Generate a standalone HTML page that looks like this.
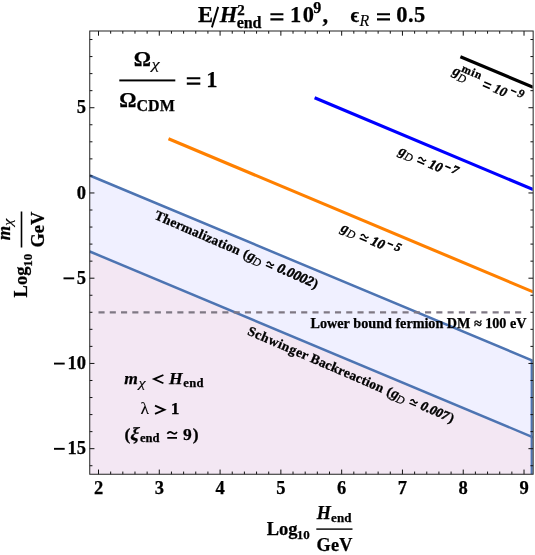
<!DOCTYPE html><html><head><meta charset="utf-8"><style>html,body{margin:0;padding:0;background:#fff}svg{display:block;will-change:transform}text{font-family:"Liberation Serif",serif;font-weight:bold;fill:#000;font-kerning:none;white-space:pre;stroke:#000;stroke-width:0.25px}text.n{stroke-width:0.1px}.rl text{stroke:#000;stroke-width:0.3px}.rl text.n{stroke-width:0.2px}.rl .dg text{stroke-width:0.5px}.i{font-style:italic}.n{font-weight:normal}</style></head><body>
<svg width="535" height="555" viewBox="0 0 535 555">
<rect width="535" height="555" fill="#fff"/>
<clipPath id="cp"><rect x="89.75" y="31.0" width="442.9" height="443.25"/></clipPath><g clip-path="url(#cp)">
<polygon points="89.75,175.5 533.15,360.8 533.15,474.25 89.75,474.25" fill="#f0f0ff"/>
<polygon points="89.75,251.5 533.15,437.3 533.15,474.25 89.75,474.25" fill="#f3e7f3"/>
<polyline points="89.75,175.5 531.85,360.26 531.85,474.25" fill="none" stroke="#4d74b2" stroke-width="2.5" stroke-linejoin="miter"/>
<line x1="89.75" y1="251.5" x2="533.15" y2="437.3" stroke="#4d74b2" stroke-width="2.5"/>
<line x1="98.5" y1="312.29" x2="524" y2="312.29" stroke="#7f7884" stroke-width="2.2" stroke-dasharray="6.1 5.16"/>
<line x1="168.5" y1="138.7" x2="533.2" y2="291.9" stroke="#ff8000" stroke-width="3.1"/>
<line x1="314.6" y1="97.7" x2="533.2" y2="189.6" stroke="#0000ff" stroke-width="3.1"/>
<line x1="460.4" y1="56.7" x2="533.2" y2="87.3" stroke="#000" stroke-width="3.1"/>
</g>
<path d="M98.50 474.25v-4.7M98.50 31.0v4.7M110.66 474.25v-2.7M110.66 31.0v2.7M122.82 474.25v-2.7M122.82 31.0v2.7M134.97 474.25v-2.7M134.97 31.0v2.7M147.13 474.25v-2.7M147.13 31.0v2.7M159.29 474.25v-4.7M159.29 31.0v4.7M171.45 474.25v-2.7M171.45 31.0v2.7M183.61 474.25v-2.7M183.61 31.0v2.7M195.76 474.25v-2.7M195.76 31.0v2.7M207.92 474.25v-2.7M207.92 31.0v2.7M220.08 474.25v-4.7M220.08 31.0v4.7M232.24 474.25v-2.7M232.24 31.0v2.7M244.40 474.25v-2.7M244.40 31.0v2.7M256.55 474.25v-2.7M256.55 31.0v2.7M268.71 474.25v-2.7M268.71 31.0v2.7M280.87 474.25v-4.7M280.87 31.0v4.7M293.03 474.25v-2.7M293.03 31.0v2.7M305.19 474.25v-2.7M305.19 31.0v2.7M317.34 474.25v-2.7M317.34 31.0v2.7M329.50 474.25v-2.7M329.50 31.0v2.7M341.66 474.25v-4.7M341.66 31.0v4.7M353.82 474.25v-2.7M353.82 31.0v2.7M365.98 474.25v-2.7M365.98 31.0v2.7M378.13 474.25v-2.7M378.13 31.0v2.7M390.29 474.25v-2.7M390.29 31.0v2.7M402.45 474.25v-4.7M402.45 31.0v4.7M414.61 474.25v-2.7M414.61 31.0v2.7M426.77 474.25v-2.7M426.77 31.0v2.7M438.92 474.25v-2.7M438.92 31.0v2.7M451.08 474.25v-2.7M451.08 31.0v2.7M463.24 474.25v-4.7M463.24 31.0v4.7M475.40 474.25v-2.7M475.40 31.0v2.7M487.56 474.25v-2.7M487.56 31.0v2.7M499.71 474.25v-2.7M499.71 31.0v2.7M511.87 474.25v-2.7M511.87 31.0v2.7M524.03 474.25v-4.7M524.03 31.0v4.7M89.75 465.73h2.7M533.15 465.73h-2.7M89.75 448.68h4.7M533.15 448.68h-4.7M89.75 431.63h2.7M533.15 431.63h-2.7M89.75 414.58h2.7M533.15 414.58h-2.7M89.75 397.53h2.7M533.15 397.53h-2.7M89.75 380.49h2.7M533.15 380.49h-2.7M89.75 363.44h4.7M533.15 363.44h-4.7M89.75 346.39h2.7M533.15 346.39h-2.7M89.75 329.34h2.7M533.15 329.34h-2.7M89.75 312.29h2.7M533.15 312.29h-2.7M89.75 295.25h2.7M533.15 295.25h-2.7M89.75 278.20h4.7M533.15 278.20h-4.7M89.75 261.15h2.7M533.15 261.15h-2.7M89.75 244.10h2.7M533.15 244.10h-2.7M89.75 227.05h2.7M533.15 227.05h-2.7M89.75 210.00h2.7M533.15 210.00h-2.7M89.75 192.96h4.7M533.15 192.96h-4.7M89.75 175.91h2.7M533.15 175.91h-2.7M89.75 158.86h2.7M533.15 158.86h-2.7M89.75 141.81h2.7M533.15 141.81h-2.7M89.75 124.76h2.7M533.15 124.76h-2.7M89.75 107.72h4.7M533.15 107.72h-4.7M89.75 90.67h2.7M533.15 90.67h-2.7M89.75 73.62h2.7M533.15 73.62h-2.7M89.75 56.57h2.7M533.15 56.57h-2.7M89.75 39.52h2.7M533.15 39.52h-2.7" stroke="#111" stroke-width="1" fill="none"/>
<rect x="89.75" y="31.0" width="443.4" height="443.25" fill="none" stroke="#222" stroke-width="1"/>
<text x="98.50" y="493.6" font-size="18.5" text-anchor="middle">2</text>
<text x="159.29" y="493.6" font-size="18.5" text-anchor="middle">3</text>
<text x="220.08" y="493.6" font-size="18.5" text-anchor="middle">4</text>
<text x="280.87" y="493.6" font-size="18.5" text-anchor="middle">5</text>
<text x="341.66" y="493.6" font-size="18.5" text-anchor="middle">6</text>
<text x="402.45" y="493.6" font-size="18.5" text-anchor="middle">7</text>
<text x="463.24" y="493.6" font-size="18.5" text-anchor="middle">8</text>
<text x="524.03" y="493.6" font-size="18.5" text-anchor="middle">9</text>
<text x="86" y="113.32" font-size="18.5" text-anchor="end">5</text>
<text x="86" y="198.56" font-size="18.5" text-anchor="end">0</text>
<text x="86" y="283.80" font-size="18.5" text-anchor="end">5</text>
<rect x="63.5" y="277.40" width="10.7" height="1.9" fill="#000"/>
<text x="86" y="369.04" font-size="18.5" text-anchor="end">10</text>
<rect x="54" y="362.64" width="10.7" height="1.9" fill="#000"/>
<text x="86" y="454.28" font-size="18.5" text-anchor="end">15</text>
<rect x="54" y="447.88" width="10.7" height="1.9" fill="#000"/>
<text x="197.92" y="22.00" font-size="22.5">E</text>
<line x1="211.9" y1="27.4" x2="218.2" y2="6.9" stroke="#000" stroke-width="1.9"/>
<text x="219.86" y="22.00" font-size="22.5" class="i">H</text>
<text x="236.75" y="27.70" font-size="16" letter-spacing="-0.136">end</text>
<text x="237.17" y="15.20" font-size="15">2</text>
<path d="M270.4 14.2H283.4M270.4 19.4H283.4" stroke="#000" stroke-width="2.1" fill="none"/>
<text x="289.90" y="22.00" font-size="22.5" letter-spacing="1.559">10</text>
<text x="313.36" y="13.30" font-size="16">9</text>
<text x="322.50" y="22.00" font-size="22.5">,</text>
<text x="350.43" y="22.00" font-size="20.5">ϵ</text>
<text x="359.39" y="25.60" font-size="16" class="i n">R</text>
<path d="M377 14.2H390M377 19.4H390" stroke="#000" stroke-width="2.1" fill="none"/>
<text x="396.34" y="22.00" font-size="22.5" letter-spacing="0.378">0.5</text>
<text x="133.82" y="65.50" font-size="21.5">Ω</text>
<text class="i n" transform="translate(151.38,69.33) scale(1.850,1.444)" font-size="10.0" stroke="#000" stroke-width="0.15">χ</text>
<rect x="119.3" y="79.45" width="56" height="1.95" fill="#000"/>
<text x="119.32" y="106.80" font-size="21.5">Ω</text>
<text x="136.42" y="110.90" font-size="16" letter-spacing="0.066">CDM</text>
<path d="M186.8 78.3H200.3M186.8 83.6H200.3" stroke="#000" stroke-width="2.1" fill="none"/>
<text x="206.30" y="87.00" font-size="22.5">1</text>
<text x="266.78" y="535.00" font-size="18.5">Log</text>
<text x="296.76" y="539.20" font-size="13">10</text>
<text x="316.73" y="519.10" font-size="18.2" class="i">H</text>
<text x="330.96" y="521.70" font-size="13" letter-spacing="0.180">end</text>
<rect x="316.3" y="528.4" width="36.2" height="1.4" fill="#000"/>
<text x="316.61" y="551.10" font-size="18.2" letter-spacing="0.158">GeV</text>
<g transform="rotate(-90)">
<text x="-297.42" y="26.90" font-size="18.5">Log</text>
<text x="-266.74" y="32.30" font-size="13">10</text>
<text x="-240.35" y="9.50" font-size="18.5" class="i">m</text>
<text class="i n" transform="translate(-225.97,12.18) scale(1.665,1.280)" font-size="10.0" stroke="#000" stroke-width="0.15">χ</text>
<rect x="-247.5" y="20.7" width="36" height="1.6" fill="#000"/>
<text x="-247.60" y="44.20" font-size="18.5">GeV</text>
</g>
<text x="124.37" y="383.50" font-size="17.5" class="i">m</text>
<text class="i n" transform="translate(138.50,387.24) scale(1.628,1.295)" font-size="10.0" stroke="#000" stroke-width="0.15">χ</text>
<path d="M163.4 375L154 379.1L163.4 383.2" stroke="#000" stroke-width="1.8" fill="none"/>
<text x="168.93" y="383.50" font-size="17.5" class="i">H</text>
<text x="183.37" y="386.70" font-size="12.6" letter-spacing="0.282">end</text>
<text x="140.54" y="414.30" font-size="17.5" class="n">λ</text>
<path d="M155 405.7L164.5 409.8L155 413.9" stroke="#000" stroke-width="1.8" fill="none"/>
<text x="170.80" y="414.30" font-size="17.5">1</text>
<text x="124.43" y="440.00" font-size="17.5">(</text>
<text transform="translate(129.6,440) skewX(-13)" font-size="18.5">ξ</text>
<text x="139.97" y="442.30" font-size="12.6" letter-spacing="-0.018">end</text>
<path d="M167.30 433.70C169.43 430.80,170.79 431.80,172.15 432.80S174.87 434.80,177.00 431.90M167.30 437.90H177.00" stroke="#000" stroke-width="1.7" fill="none"/>
<text x="183.12" y="440.00" font-size="17.5">9</text>
<text x="192.74" y="440.00" font-size="17.5">)</text>
<text x="310.56" y="328.10" font-size="14.2" letter-spacing="-0.024">Lower bound fermion DM ≈ 100 eV</text>
<g class="rl" transform="translate(343.4,229.1) rotate(23.4)"><text x="-2.30" y="3.00" font-size="14.5" class="i">g</text><text x="4.80" y="5.40" font-size="11.5" class="i n">D</text><path d="M18.50 -1.00C20.19 -3.90,21.27 -2.90,22.35 -1.90S24.51 0.10,26.20 -2.80M18.50 1.90H26.20" stroke="#000" stroke-width="1.5" fill="none"/><g class="dg"><text x="30.51" y="3.20" font-size="13.5" class="i">10</text><rect x="46.2" y="-5.7" width="5.8" height="1.6" fill="#000"/><text x="54.29" y="-1.40" font-size="12" class="i">5</text></g></g>
<g class="rl" transform="translate(401.0,152.1) rotate(23.4)"><text x="-2.30" y="3.00" font-size="14.5" class="i">g</text><text x="4.80" y="5.40" font-size="11.5" class="i n">D</text><path d="M18.50 -1.00C20.19 -3.90,21.27 -2.90,22.35 -1.90S24.51 0.10,26.20 -2.80M18.50 1.90H26.20" stroke="#000" stroke-width="1.5" fill="none"/><g class="dg"><text x="30.51" y="3.20" font-size="13.5" class="i">10</text><rect x="46.2" y="-5.7" width="5.8" height="1.6" fill="#000"/><text x="53.75" y="-1.40" font-size="12" class="i">7</text></g></g>
<g class="rl" transform="translate(455.2,72.2) rotate(23.4)"><text x="-2.50" y="3.00" font-size="14.5" class="i">g</text><text x="4.50" y="6.80" font-size="11.5" class="i n">D</text><text x="4.75" y="-3.20" font-size="11.5" letter-spacing="0.8">min</text><path d="M30.6 -2.6H38.2M30.6 1.2H38.2" stroke="#000" stroke-width="1.5" fill="none"/><text x="41.91" y="3.20" font-size="13.5" class="i">10</text><rect x="58.4" y="-6.6" width="5.8" height="1.5" fill="#000"/><text x="65.92" y="-2.60" font-size="12" class="i">9</text></g>
<g class="rl" transform="translate(152.0,217.8) rotate(23.4)"><text x="1.79" y="0.00" font-size="13.5" letter-spacing="0.221">Thermalization</text><text x="98.37" y="0.00" font-size="13.5">(</text><text x="103.10" y="0.00" font-size="14.5" class="i">g</text><text x="109.50" y="2.80" font-size="11.5" class="i n">D</text><path d="M123.40 -4.00C124.96 -6.90,125.96 -5.90,126.95 -4.90S128.94 -2.90,130.50 -5.80M123.40 -1.50H130.50" stroke="#000" stroke-width="1.5" fill="none"/><g class="dg"><text x="135.22" y="-0.30" font-size="13.9" class="i">0.0002</text></g><text x="173.96" y="0.00" font-size="13.5">)</text></g>
<g class="rl" transform="translate(248.1,334.9) rotate(23.4)"><text x="-1.52" y="0.00" font-size="13.5" letter-spacing="0.532">Schwinger</text><text x="66.98" y="0.00" font-size="13.5" letter-spacing="0.177">Backreaction</text><text x="150.07" y="0.00" font-size="13.5">(</text><text x="154.80" y="0.00" font-size="14.5" class="i">g</text><text x="161.20" y="2.80" font-size="11.5" class="i n">D</text><path d="M175.10 -4.00C176.66 -6.90,177.66 -5.90,178.65 -4.90S180.64 -2.90,182.20 -5.80M175.10 -1.50H182.20" stroke="#000" stroke-width="1.5" fill="none"/><g class="dg"><text x="186.95" y="-0.30" font-size="13.0" class="i">0.007</text></g><text x="217.46" y="0.00" font-size="13.5">)</text></g>
</svg></body></html>
